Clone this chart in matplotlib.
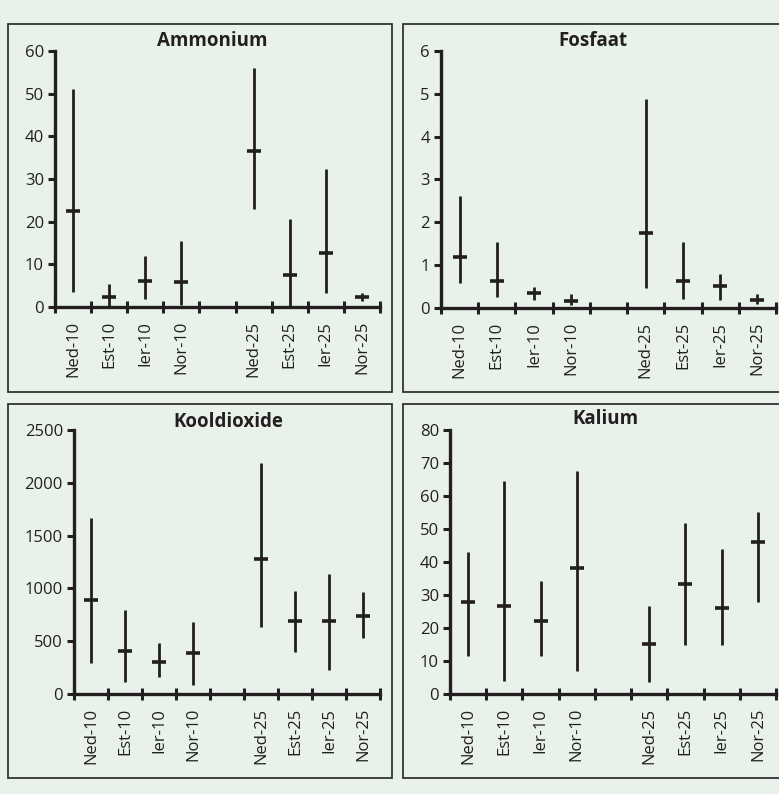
import numpy as np
import matplotlib.pyplot as plt
from matplotlib.patches import Rectangle

plt.rcParams['font.family'] = ['Open Sans', 'DejaVu Sans']

W, H = 779, 794
bg = '#e9f2ea'
ink = '#231f20'

categories = ['Ned-10', 'Est-10', 'Ier-10', 'Nor-10', 'Ned-25', 'Est-25', 'Ier-25', 'Nor-25']
# slot index on the category axis (slot 4 left empty)
slots = [0, 1, 2, 3, 5, 6, 7, 8]

amm_mean = [22.4, 2.3, 6.2, 5.9, 36.6, 7.5, 12.7, 2.3]
amm_low = [3.4, 0.0, 1.9, 0.5, 22.9, 0.0, 3.3, 1.3]
amm_high = [51.0, 5.4, 12.0, 15.5, 55.9, 20.7, 32.3, 3.3]

fos_mean = [1.18, 0.64, 0.34, 0.17, 1.75, 0.62, 0.52, 0.19]
fos_low = [0.58, 0.25, 0.19, 0.08, 0.47, 0.22, 0.19, 0.10]
fos_high = [2.62, 1.53, 0.50, 0.33, 4.87, 1.55, 0.80, 0.33]

co2_mean = [891, 403, 305, 384, 1281, 690, 690, 737]
co2_low = [293, 113, 157, 82, 630, 394, 227, 529]
co2_high = [1669, 793, 479, 686, 2191, 976, 1137, 967]

kal_mean = [28.0, 26.7, 22.0, 38.3, 15.2, 33.2, 26.2, 46.1]
kal_low = [11.4, 4.0, 11.6, 7.1, 3.6, 14.7, 14.7, 28.0]
kal_high = [42.9, 64.5, 34.1, 67.6, 26.8, 51.7, 43.9, 55.2]

panels = [
    # title, mean, low, high, ymax, ystep, axes box (px: left, right, top, bottom), frame box, title pos
    ('Ammonium', amm_mean, amm_low, amm_high, 60, 10, (55, 380, 51, 307), (8, 392, 24, 392), (212, 41)),
    ('Fosfaat', fos_mean, fos_low, fos_high, 6, 1, (441, 776, 51, 308), (403, 790, 24, 392), (593, 41)),
    ('Kooldioxide', co2_mean, co2_low, co2_high, 2500, 500, (74, 380, 430, 694), (8, 392, 404, 778), (228, 422)),
    ('Kalium', kal_mean, kal_low, kal_high, 80, 10, (450, 776, 430, 694), (403, 790, 404, 778), (605, 419)),
]

fig = plt.figure(figsize=(W / 100, H / 100), dpi=100, facecolor=bg)

for title, mean, low, high, ymax, ystep, abox, fbox, tpos in panels:
    fl, fr, ft, fb = fbox
    fig.patches.append(Rectangle((fl / W, 1 - fb / H), (fr - fl) / W, (fb - ft) / H,
                                 transform=fig.transFigure, facecolor=bg,
                                 edgecolor='#333333', linewidth=1.3, zorder=-5))
    l, r, t, b = abox
    ax = fig.add_axes([l / W, 1 - b / H, (r - l) / W, (b - t) / H])
    ax.set_facecolor('none')
    x = np.array(slots) + 0.5
    ax.vlines(x, low, high, color=ink, linewidth=2.0, zorder=3)
    ax.plot(x, mean, linestyle='none', marker='_', markersize=10,
            markeredgewidth=2.6, color=ink, zorder=4)
    ax.set_xlim(0, 9)
    ax.set_ylim(0, ymax)
    ax.set_yticks(np.arange(0, ymax + ystep / 2, ystep))
    ax.set_xticks(np.arange(0, 10))
    ax.set_xticklabels([])
    ax.set_xticks(x, minor=True)
    ax.set_xticklabels(categories, minor=True, rotation=90, fontsize=12, color=ink)
    ax.tick_params(axis='x', which='major', direction='inout', length=9, width=2.2, color=ink)
    ax.tick_params(axis='x', which='minor', length=0, pad=10)
    ax.tick_params(axis='y', direction='out', length=5, width=2.2, color=ink,
                   labelsize=12, labelcolor=ink, pad=3)
    for s in ['top', 'right']:
        ax.spines[s].set_visible(False)
    for s in ['left', 'bottom']:
        ax.spines[s].set_linewidth(2.4)
        ax.spines[s].set_color(ink)
        ax.spines[s].set_capstyle('projecting')
    fig.text(tpos[0] / W, 1 - tpos[1] / H, title, ha='center', va='center',
             fontsize=13.5, fontweight='bold', color=ink)

fig.savefig('out.png', dpi=100, facecolor=bg)
